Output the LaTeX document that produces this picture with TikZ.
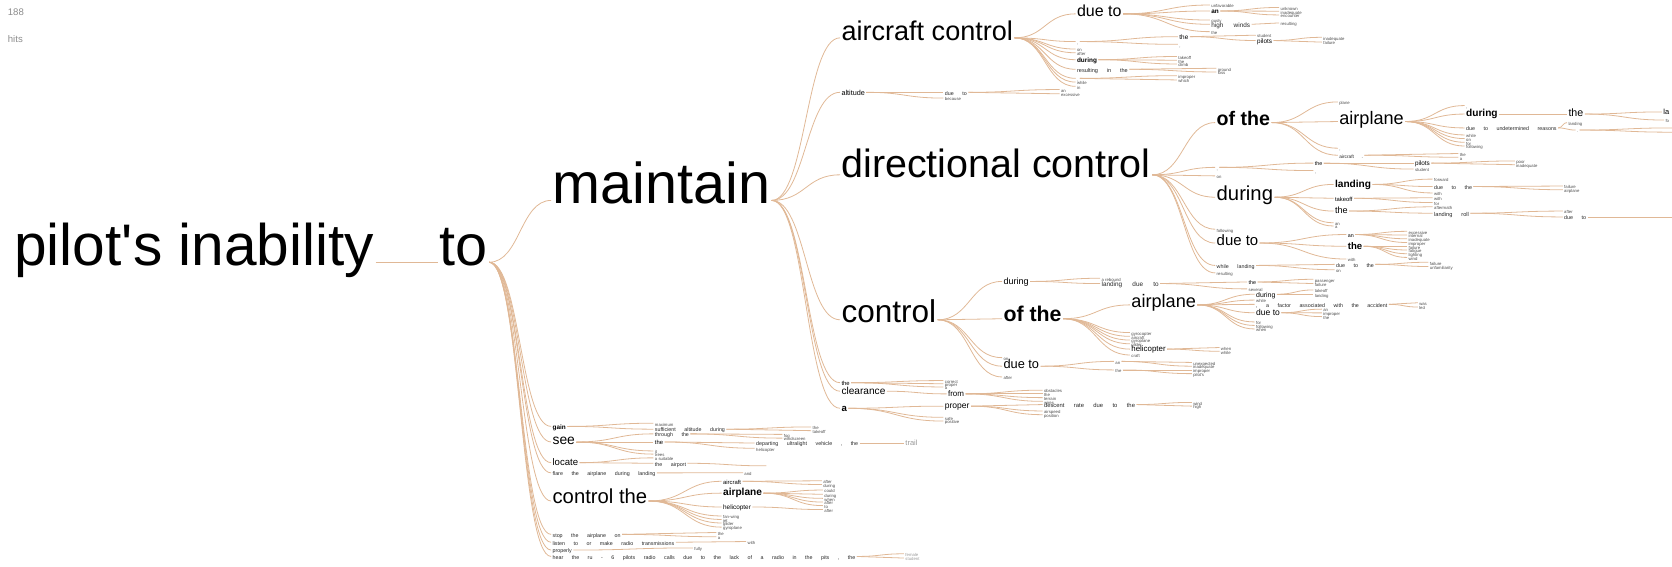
\documentclass[tikz,border=0pt]{standalone}
\usepackage{fontspec}
\setmainfont{Liberation Sans}
\usetikzlibrary{calc}
\definecolor{edgec}{RGB}{224,184,150}
\newcommand\wsp{\spaceskip 1.6em\relax}
\tikzset{
 w/.style={anchor=mid west,inner xsep=1.2pt,inner ysep=0.5pt,text=black},
 nsz/.style={w,font=\fontsize{#1}{#1}\selectfont},
 nbd/.style={w,font=\fontsize{#1}{#1}\selectfont\bfseries},
 nph/.style={w,font=\fontsize{#1}{#1}\selectfont\wsp,text=black!85},
 ntn/.style={w,font=\fontsize{4}{4}\selectfont,text=black!70},
 ln/.style={draw=edgec,line width=0.75pt},
 wtc/.style={to path={let \p1=(\tikztostart),\p2=(\tikztotarget) in .. controls ({0.5*\x1+0.5*\x2},\y1) and ({0.5*\x1+0.5*\x2},\y2) .. (\tikztotarget)}},
}
\newcommand\E[2]{\foreach \q in {#2}{\draw[ln] (#1.mid east) to[wtc] (\q.mid west);}}
\newcommand\F[2]{\foreach \q in {#2}{\draw[ln] (#1.mid east) to[wtc] (\q);}}
\begin{document}
\begin{tikzpicture}[x=1pt,y=-1pt]
\useasboundingbox (0,0) rectangle (1568.5,531);
\clip (0,0) rectangle (1568.5,531);

\node[nsz=9,text=black!45] (h1) at (6,12) {188};
\node[nsz=9,text=black!45] (h2) at (6,37) {hits};

\node[nsz=55] (root) at (12,246) {pilot\textquotesingle s inability};
\node[nsz=54] (to) at (411,246) {to};
\node[nsz=54] (mnt) at (517,188) {maintain};
\E{root}{to}
\E{to}{mnt}

% maintain children
\node[nsz=25.4] (ac) at (788,35.5) {aircraft control};
\node[nsz=6.8] (alt) at (788,86.6) {altitude};
\node[nsz=37] (dc) at (788,164) {directional control};
\node[nsz=29.6] (ct) at (788,300) {control};
\node[nsz=5.5] (mthe) at (788,359) {the};
\node[nsz=9.5] (clr) at (788,367) {clearance};
\node[nbd=9] (ma) at (788,383) {a};
\E{mnt}{ac,alt,dc,ct,mthe,clr,ma}

% aircraft control
\node[nsz=15] (acd) at (1009,13) {due to};
\node[ntn] (ac1) at (1009,39) {,};
\node[ntn] (ac2) at (1009,46) {on};
\node[ntn] (ac3) at (1009,49.5) {after};
\node[nbd=6] (acdur) at (1009,56) {during};
\node[nph=5.2] (acres) at (1009,65) {resulting in the};
\node[ntn] (ac4) at (1009,73.5) {,};
\node[ntn] (ac5) at (1009,77) {while};
\node[ntn] (ac6) at (1009,81) {in};
\E{ac}{acd,ac1,ac2,ac3,acdur,acres,ac4,ac5,ac6}

\node[ntn] (acd1) at (1135,4.7) {unfavorable};
\node[nbd=6] (acdan) at (1135,10.3) {an};
\node[ntn] (acd2) at (1135,18.8) {gusty};
\node[nph=6] (acdhw) at (1135,22.8) {high winds};
\node[ntn] (acd3) at (1135,29.7) {the};
\E{acd}{acd1,acdan,acd2,acdhw,acd3}
\node[ntn] (an1) at (1200,7) {unknown};
\node[ntn] (an2) at (1200,10.5) {inadequate};
\node[ntn] (an3) at (1200,14) {encounter};
\E{acdan}{an1,an2,an3}
\node[ntn] (hw1) at (1200,21.5) {resulting};
\E{acdhw}{hw1}

\node[nsz=6] (ac1the) at (1105,34.4) {the};
\node[ntn] (ac1c) at (1105,41.6) {,};
\E{ac1}{ac1the,ac1c}
\node[ntn] (stu1) at (1178,33) {student};
\node[nsz=6] (pil1) at (1178,38) {pilots};
\E{ac1the}{stu1,pil1}
\node[ntn] (pil1a) at (1240,35) {inadequate};
\node[ntn] (pil1b) at (1240,39.5) {failure};
\E{pil1}{pil1a,pil1b}

\node[ntn] (du1) at (1104,53) {takeoff};
\node[ntn] (du2) at (1104,56.5) {the};
\node[ntn] (du3) at (1104,60) {climb};
\E{acdur}{du1,du2,du3}
\node[ntn] (rs1) at (1141,64) {ground};
\node[ntn] (rs2) at (1141,67.5) {loss};
\E{acres}{rs1,rs2}
\node[ntn] (cm1) at (1104,71) {improper};
\node[ntn] (cm2) at (1104,75) {which};
\E{ac4}{cm1,cm2}

% altitude
\node[nph=5] (altd) at (885,86.6) {due to};
\node[ntn] (altb) at (885,92) {because};
\E{alt}{altd,altb}
\node[ntn] (alt1) at (994,84) {an};
\node[ntn] (alt2) at (994,88) {excessive};
\E{altd}{alt1,alt2}

% directional control
\node[nbd=18.4] (dcof) at (1140,115) {of the};
\node[ntn] (dc1) at (1140,157) {,};
\node[ntn] (dc2) at (1140,165) {on};
\node[nsz=19] (dcdur) at (1140,185) {during};
\node[ntn] (dc3) at (1140,215) {following};
\node[nsz=14] (dcdue) at (1140,228) {due to};
\node[nph=5] (dcwl) at (1140,249) {while landing};
\node[ntn] (dc4) at (1140,256) {resulting};
\E{dc}{dcof,dc1,dc2,dcdur,dc3,dcdue,dcwl,dc4}

\node[ntn] (of1) at (1255,95.6) {plane};
\node[nsz=17] (dcap) at (1255,114) {airplane};
\node[ntn] (of2) at (1255,139) {,};
\node[nph=4.5] (of3) at (1255,145.6) {aircraft .};
\E{dcof}{of1,dcap,of2,of3}

\node[ntn] (ap1) at (1374,99) {,};
\node[nbd=9.5] (apdur) at (1374,107) {during};
\node[nph=5] (apdue) at (1374,120) {due to undetermined reasons};
\node[ntn] (ap2) at (1374,126.6) {while};
\node[ntn] (ap3) at (1374,130) {on};
\node[ntn] (ap4) at (1374,133.5) {for};
\node[ntn] (ap5) at (1374,137) {following};
\E{dcap}{ap1,apdur,apdue,ap2,ap3,ap4,ap5}
\node[nsz=10] (apthe) at (1470,107) {the};
\E{apdur}{apthe}
\node[nsz=7] (apla) at (1559,105) {la};
\node[ntn] (apfo) at (1561,112.6) {fo};
\E{apthe}{apla,apfo}
\node[ntn] (apl) at (1470,115) {landing};
\node[ntn] (apdot) at (1478,122) {.};
\E{apdue}{apl,apdot}
\coordinate (apz1) at (1568.5,120);
\coordinate (apz2) at (1568.5,124);
\F{apdot}{apz1,apz2}

\node[ntn] (of3a) at (1368,144) {the};
\node[ntn] (of3b) at (1368,147.5) {a};
\E{of3}{of3a,of3b}

\node[nsz=5] (dc1the) at (1232,153) {the};
\node[ntn] (dc1c) at (1232,160) {,};
\E{dc1}{dc1the,dc1c}
\node[nsz=6] (pil2) at (1326,153) {pilots};
\node[ntn] (stu2) at (1326,158.6) {student};
\E{dc1the}{pil2,stu2}
\node[ntn] (pl2a) at (1421,151) {poor};
\node[ntn] (pl2b) at (1421,154.5) {inadequate};
\E{pil2}{pl2a,pl2b}

\node[nbd=9.5] (dl) at (1251,173) {landing};
\node[nsz=5.5] (dt) at (1251,186) {takeoff};
\node[nsz=8.5] (dthe) at (1251,198) {the};
\node[ntn] (dan) at (1251,209) {an};
\node[ntn] (da) at (1251,212) {a};
\E{dcdur}{dl,dt,dthe,dan,da}

\node[ntn] (dl1) at (1344,168) {forward};
\node[nph=5] (dldue) at (1344,175) {due to the};
\node[ntn] (dl2) at (1344,181) {with};
\E{dl}{dl1,dldue,dl2}
\node[ntn] (dld1) at (1466,174.5) {failure};
\node[ntn] (dld2) at (1466,178) {airplane};
\E{dldue}{dld1,dld2}
\node[ntn] (dt1) at (1344,185.5) {with};
\node[ntn] (dt2) at (1344,190) {for};
\E{dt}{dt1,dt2}
\node[ntn] (dth1) at (1344,194) {aftermath};
\node[nph=5.3] (dthlr) at (1344,200) {landing roll};
\E{dthe}{dth1,dthlr}
\node[ntn] (lr1) at (1466,198) {after};
\node[nph=5] (lrdue) at (1466,203.5) {due to};
\E{dthlr}{lr1,lrdue}
\coordinate (lrz) at (1568.5,203.5);
\F{lrdue}{lrz}

\node[nsz=5] (ddan) at (1263,220) {an};
\node[nbd=9] (ddthe) at (1263,231) {the};
\node[ntn] (ddw) at (1263,243) {with};
\E{dcdue}{ddan,ddthe,ddw}
\node[ntn] (dd1) at (1320,217) {excessive};
\node[ntn] (dd2) at (1320,220.5) {internal};
\node[ntn] (dd3) at (1320,224) {inadequate};
\node[ntn] (dd4) at (1320,227.5) {improper};
\node[ntn] (dd5) at (1320,231) {failure};
\node[ntn] (dd6) at (1320,234.5) {fatigue};
\node[ntn] (dd7) at (1320,238) {lighting};
\node[ntn] (dd8) at (1320,241.5) {wind};
\E{ddan}{dd1,dd2,dd3,dd4}
\E{ddthe}{dd5,dd6,dd7,dd8}

\node[nph=5] (wldue) at (1252,248) {due to the};
\node[ntn] (wlon) at (1252,253) {on};
\E{dcwl}{wldue,wlon}
\node[ntn] (wl1) at (1340,246) {failure};
\node[ntn] (wl2) at (1340,250) {unfamiliarity};
\E{wldue}{wl1,wl2}

% control
\node[nsz=8.5] (cdur) at (940,264) {during};
\node[nbd=20] (cof) at (940,299) {of the};
\node[ntn] (con) at (940,335.5) {on};
\node[nsz=12] (cdue) at (940,343.5) {due to};
\node[ntn] (caft) at (940,353.6) {after};
\E{ct}{cdur,cof,con,cdue,caft}

\node[ntn] (cd1) at (1032,261) {a rebound};
\node[nph=6] (cdl) at (1032,266) {landing due to};
\E{cdur}{cd1,cdl}
\node[nsz=5] (cdlthe) at (1170,264.5) {the};
\node[ntn] (cdls) at (1170,271) {several};
\E{cdl}{cdlthe,cdls}
\node[ntn] (cdt1) at (1232,262) {passenger};
\node[ntn] (cdt2) at (1232,266) {failure};
\E{cdlthe}{cdt1,cdt2}

\node[nsz=17] (cap) at (1060,286) {airplane};
\node[ntn] (cg1) at (1060,312) {gyrocopter};
\node[ntn] (cg2) at (1060,315.5) {aircraft};
\node[ntn] (cg3) at (1060,319) {gyroplane};
\node[ntn] (cg4) at (1060,322.5) {glider};
\node[nsz=7.4] (chel) at (1060,327.5) {helicopter};
\node[ntn] (cg5) at (1060,333) {craft};
\E{cof}{cap,cg1,cg2,cg3,cg4,chel,cg5}

\node[nsz=6.5] (capd) at (1177,276) {during};
\node[ntn] (cap1) at (1177,281.5) {while};
\node[nph=5] (capf) at (1177,285.5) {, a factor associated with the accident};
\node[nsz=8] (capdue) at (1177,293.4) {due to};
\node[ntn] (cap2) at (1177,302) {for};
\node[ntn] (cap3) at (1177,305.3) {following};
\node[ntn] (cap4) at (1177,308.6) {when};
\E{cap}{capd,cap1,capf,capdue,cap2,cap3,cap4}
\node[ntn] (cpd1) at (1232,272) {takeoff};
\node[ntn] (cpd2) at (1232,276) {landing};
\E{capd}{cpd1,cpd2}
\node[ntn] (cpf1) at (1330,284) {was};
\node[ntn] (cpf2) at (1330,288) {led};
\E{capf}{cpf1,cpf2}
\node[ntn] (cpu1) at (1240,290) {an};
\node[ntn] (cpu2) at (1240,293.5) {improper};
\node[ntn] (cpu3) at (1240,297) {the};
\E{capdue}{cpu1,cpu2,cpu3}
\node[ntn] (ch1) at (1144,326) {when};
\node[ntn] (ch2) at (1144,329.5) {while};
\E{chel}{ch1,ch2}

\node[ntn] (cdan) at (1045,339) {an};
\node[ntn] (cdthe) at (1045,347) {the};
\E{cdue}{cdan,cdthe}
\node[ntn] (cx1) at (1118,340) {unexpected};
\node[ntn] (cx2) at (1118,343.5) {inadequate};
\node[ntn] (cx3) at (1118,347) {improper};
\node[ntn] (cx4) at (1118,350.5) {pilot\textquotesingle s};
\E{cdan}{cx1,cx2}
\E{cdthe}{cx3,cx4}

% the / clearance / a
\node[ntn] (mt1) at (885,357) {correct};
\node[ntn] (mt2) at (885,360) {proper};
\node[ntn] (mt3) at (885,363) {a};
\E{mthe}{mt1,mt2,mt3}
\node[nsz=7.5] (from) at (888,369.5) {from};
\E{clr}{from}
\node[ntn] (fr1) at (978,366) {obstacles};
\node[ntn] (fr2) at (978,369.5) {the};
\node[ntn] (fr3) at (978,373) {terrain};
\node[ntn] (fr4) at (978,376.5) {wires};
\E{from}{fr1,fr2,fr3,fr4}
\node[nsz=8] (mprop) at (885,381) {proper};
\node[ntn] (ma1) at (885,391.5) {safe};
\node[ntn] (ma2) at (885,395) {positive};
\E{ma}{mprop,ma1,ma2}
\node[nph=5.5] (desc) at (978,379.5) {descent rate due to the};
\node[ntn] (mp1) at (978,385.5) {airspeed};
\node[ntn] (mp2) at (978,389) {position};
\E{mprop}{desc,mp1,mp2}
\node[ntn] (ds1) at (1118,377.5) {wind};
\node[ntn] (ds2) at (1118,381) {high};
\E{desc}{ds1,ds2}

% bottom branch of "to"
\node[nbd=6] (gain) at (517,400) {gain};
\node[nsz=13] (see) at (517,414.6) {see};
\node[nsz=9] (loc) at (517,434) {locate};
\node[nph=5] (flare) at (517,443.6) {flare the airplane during landing};
\node[nsz=19] (cthe) at (517,470) {control the};
\node[nph=5] (stop) at (517,501.3) {stop the airplane on};
\node[nph=5] (lis) at (517,508.7) {listen to or make radio transmissions};
\node[nph=5] (prop) at (517,516) {properly};
\node[nph=5] (hear) at (517,522) {hear the ru - 6 pilots radio calls due to the lack of a radio in the pits , the};
\E{to}{gain,see,loc,flare,cthe,stop,lis,prop,hear}

\node[ntn] (g1) at (613,397) {maximum};
\node[nph=5] (gsuf) at (613,402.6) {sufficient altitude during};
\E{gain}{g1,gsuf}
\node[ntn] (gs1) at (761,400.5) {the};
\node[ntn] (gs2) at (761,404) {takeoff};
\E{gsuf}{gs1,gs2}

\node[nph=5] (sthr) at (613,407) {through the};
\node[nsz=5.5] (sthe) at (613,414.6) {the};
\node[ntn] (s1) at (613,423) {it};
\node[ntn] (s2) at (613,426) {trees};
\E{see}{sthr,sthe,s1,s2}
\node[ntn] (st1) at (734,407.5) {fog};
\node[ntn] (st2) at (734,411) {windscreen};
\E{sthr}{st1,st2}
\node[nph=5] (sdep) at (708,415.6) {departing ultralight vehicle , the};
\node[ntn] (sh) at (708,420.5) {helicopter};
\E{sthe}{sdep,sh}
\node[nsz=7,text=black!40] (trail) at (848,415.6) {trail};
\E{sdep}{trail}

\node[ntn] (l1) at (613,429.5) {a suitable};
\node[nph=5] (lair) at (613,434.6) {the airport};
\E{loc}{l1,lair}
\coordinate (lz) at (719,437);
\F{lair}{lz}
\node[ntn] (fl1) at (697,443.5) {and};
\E{flare}{fl1}

\node[nsz=5.5] (tac) at (677,451.5) {aircraft};
\node[nbd=9.5] (tap) at (677,462.6) {airplane};
\node[nsz=6] (thel) at (677,475.6) {helicopter};
\node[ntn] (tt1) at (677,484) {fan-wing};
\node[ntn] (tt2) at (677,487.3) {jet};
\node[ntn] (tt3) at (677,490.6) {glider};
\node[ntn] (tt4) at (677,494.5) {gyroplane};
\E{cthe}{tac,tap,thel,tt1,tt2,tt3,tt4}
\node[ntn] (ta1) at (771,451) {after};
\node[ntn] (ta2) at (771,454.5) {during};
\E{tac}{ta1,ta2}
\node[ntn] (tp1) at (772,459.7) {could};
\node[ntn] (tp2) at (772,463.7) {during};
\node[ntn] (tp3) at (772,467.5) {when};
\node[ntn] (tp4) at (772,471) {after};
\node[ntn] (tp5) at (772,474.3) {to};
\E{tap}{tp1,tp2,tp3,tp4,tp5}
\node[ntn] (th1) at (772,478) {after};
\E{thel}{th1}

\node[ntn] (sp1) at (672,499.5) {the};
\node[ntn] (sp2) at (672,503.5) {a};
\E{stop}{sp1,sp2}
\node[ntn] (ls1) at (700,508) {with};
\E{lis}{ls1}
\node[ntn] (pr1) at (650,514) {fully};
\E{prop}{pr1}
\node[ntn,text=black!40] (hr1) at (848,519.5) {female};
\node[ntn,text=black!40] (hr2) at (848,523.5) {student};
\E{hear}{hr1,hr2}
\end{tikzpicture}
\end{document}
